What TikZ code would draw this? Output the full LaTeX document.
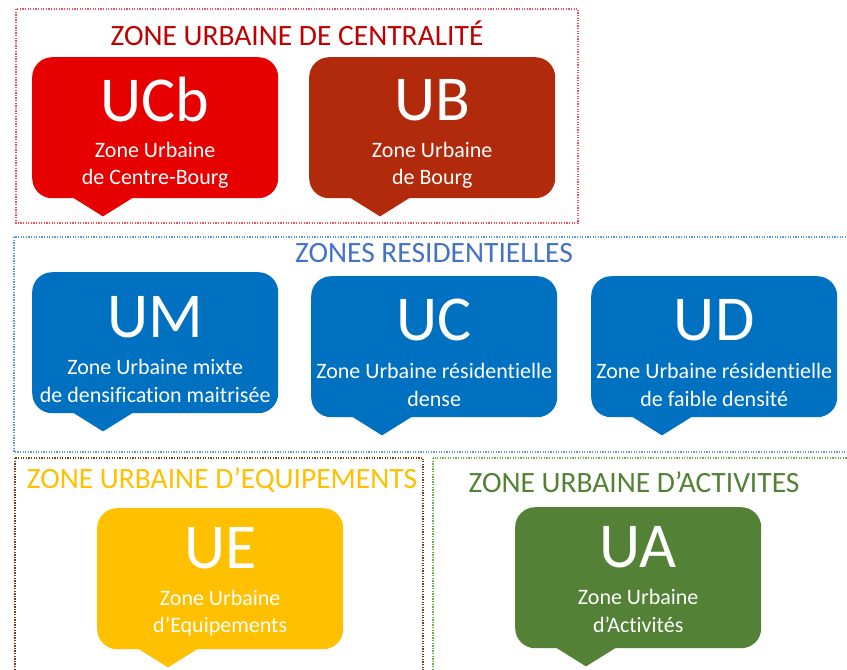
\documentclass[tikz,border=0pt]{standalone}
\usepackage{fontspec}
\setmainfont[Ligatures={NoCommon}]{Carlito}
\usetikzlibrary{calc}
\definecolor{cRed}{HTML}{E60000}
\definecolor{cBrick}{HTML}{B22A0C}
\definecolor{cBlue}{HTML}{0070C0}
\definecolor{cGold}{HTML}{FFC000}
\definecolor{cGreen}{HTML}{538135}
\definecolor{tRed}{HTML}{C00000}
\definecolor{tBlue}{HTML}{4472C4}
\definecolor{fRed}{HTML}{F0505A}
\definecolor{fBlue}{HTML}{5B9BD5}
\definecolor{fBrown}{HTML}{843C0C}
\definecolor{fGreen}{HTML}{70AD47}
\tikzset{
  bubble/.style={rounded corners=20pt, minimum width=246pt, minimum height=141pt, inner sep=0pt, anchor=north west},
  bigtxt/.style={text=white, font=\fontsize{64}{64}\selectfont, inner sep=0pt},
  smalltxt/.style={text=white, font=\fontsize{22}{27.5}\selectfont, align=center, inner sep=0pt},
  zframe/.style={line width=1.3pt, dash pattern=on 1.3pt off 1.3pt},
  ztitle/.style={font=\fontsize{29.5}{29.5}\selectfont, inner sep=0pt}
}
\newcommand\bubbletail[2]{%
  \fill[#2] ($(#1.south west)+(39,-2)$) -- ($(#1.south west)+(71,18)$) -- ($(#1.south west)+(103,-2)$) -- cycle;}
\begin{document}
\begin{tikzpicture}[x=1pt,y=-1pt]
\useasboundingbox (0,0) rectangle (847,670);
\clip (0,0) rectangle (847,670);
\fill[white] (0,0) rectangle (847,670);
% frames
\draw[zframe, fRed] (16,9) rectangle (578,223);
\draw[zframe, fBlue] (14,237) rectangle (852,452);
\draw[zframe, fBrown] (15,458) rectangle (423,680);
\draw[zframe, fGreen] (433,458) rectangle (852,680);
% titles
\node[ztitle, text=tRed] (t1) at (297,33) {ZONE URBAINE DE CENTRALITÉ};
\node[ztitle, text=tBlue] (t2) at (434,253) {ZONES RESIDENTIELLES};
\node[ztitle, text=cGold] (t3) at (222,480) {ZONE URBAINE D’EQUIPEMENTS};
\node[ztitle, text=cGreen] (t4) at (634,482) {ZONE URBAINE D’ACTIVITES};
% bubbles
\node[bubble, fill=cRed] (ucb) at (32,57) {};
\bubbletail{ucb}{cRed}
\node[bigtxt] (ucbA) at ($(ucb.north)+(0,43)$) {UCb};
\node[smalltxt] (ucbB) at ($(ucb.north)+(0,108)$) {Zone Urbaine\\de Centre-Bourg};

\node[bubble, fill=cBrick] (ub) at (309,57) {};
\bubbletail{ub}{cBrick}
\node[bigtxt] (ubA) at ($(ub.north)+(0,43)$) {UB};
\node[smalltxt] (ubB) at ($(ub.north)+(0,108)$) {Zone Urbaine\\de Bourg};

\node[bubble, fill=cBlue] (um) at (32,272) {};
\bubbletail{um}{cBlue}
\node[bigtxt] (umA) at ($(um.north)+(0,45)$) {UM};
\node[smalltxt] (umB) at ($(um.north)+(0,109)$) {Zone Urbaine mixte\\de densification maitrisée};

\node[bubble, fill=cBlue] (uc) at (311,276) {};
\bubbletail{uc}{cBlue}
\node[bigtxt] (ucA) at ($(uc.north)+(0,44)$) {UC};
\node[smalltxt] (ucB) at ($(uc.north)+(0,109)$) {Zone Urbaine résidentielle\\dense};

\node[bubble, fill=cBlue] (ud) at (591,276) {};
\bubbletail{ud}{cBlue}
\node[bigtxt] (udA) at ($(ud.north)+(0,44)$) {UD};
\node[smalltxt] (udB) at ($(ud.north)+(0,109)$) {Zone Urbaine résidentielle\\de faible densité};

\node[bubble, fill=cGold] (ue) at (97,508) {};
\bubbletail{ue}{cGold}
\node[bigtxt] (ueA) at ($(ue.north)+(0,40)$) {UE};
\node[smalltxt] (ueB) at ($(ue.north)+(0,105)$) {Zone Urbaine\\d’Equipements};

\node[bubble, fill=cGreen] (ua) at (515,507) {};
\bubbletail{ua}{cGreen}
\node[bigtxt] (uaA) at ($(ua.north)+(0,40)$) {UA};
\node[smalltxt] (uaB) at ($(ua.north)+(0,104)$) {Zone Urbaine\\d’Activités};
\end{tikzpicture}
\end{document}
